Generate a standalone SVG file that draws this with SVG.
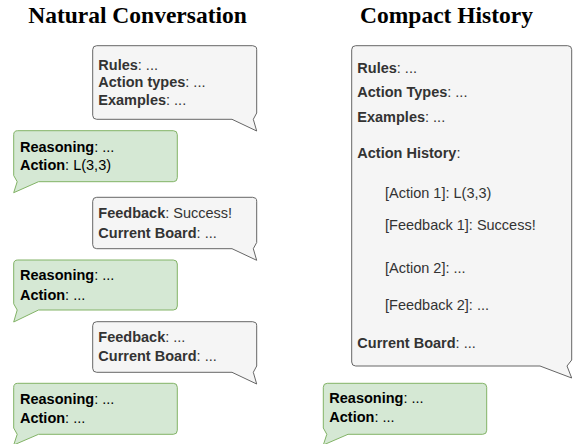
<svg xmlns="http://www.w3.org/2000/svg" width="573" height="444" viewBox="0 0 573 444">
<style>
.title{font-family:"Liberation Serif","Times New Roman",serif;font-weight:bold;font-size:23.5px;fill:#000;text-anchor:middle}
.gray{fill:#f5f5f5;stroke:#666666;stroke-width:1}
.green{fill:#d5e8d4;stroke:#82b366;stroke-width:1}
.t{font-family:"Liberation Sans",Arial,Helvetica,sans-serif;font-size:14.5px}
.tg{fill:#333333}
.tk{fill:#000000}
.b{font-weight:bold}
</style>
<rect width="573" height="444" fill="#ffffff"/>
<text class="title" x="137.5" y="22.7">Natural Conversation</text>
<text class="title" x="446.5" y="22.7">Compact History</text>

<g id="sys1">
<path class="gray" d="M96.7,45.7 H252.7 Q256.7,45.7 256.7,49.7 V113 L253.3,119.3 L256.7,131 L232,119.3 H96.7 Q92.7,119.3 92.7,115.3 V49.7 Q92.7,45.7 96.7,45.7 Z"/>
<text class="t tg" x="98.3" y="70"><tspan class="b">Rules</tspan>: ...</text>
<text class="t tg" x="98.3" y="87.3"><tspan class="b">Action types</tspan>: ...</text>
<text class="t tg" x="98.3" y="104.6"><tspan class="b">Examples</tspan>: ...</text>
</g>

<g id="agent1">
<path class="green" d="M17.7,130.7 H173.3 Q177.3,130.7 177.3,134.7 V177.7 Q177.3,181.7 173.3,181.7 H38.5 L13.7,192.7 L17.2,181.7 L13.7,175.5 V134.7 Q13.7,130.7 17.7,130.7 Z"/>
<text class="t tk" x="20" y="151.7"><tspan class="b">Reasoning</tspan>: ...</text>
<text class="t tk" x="20" y="170"><tspan class="b">Action</tspan>: L(3,3)</text>
</g>

<g id="sys2">
<path class="gray" d="M96.7,197.3 H252.7 Q256.7,197.3 256.7,201.3 V242.5 L253.3,248.7 L256.7,260.3 L232,248.7 H96.7 Q92.7,248.7 92.7,244.7 V201.3 Q92.7,197.3 96.7,197.3 Z"/>
<text class="t tg" x="98.3" y="218.3"><tspan class="b">Feedback</tspan>: Success!</text>
<text class="t tg" x="98.3" y="238.3"><tspan class="b">Current Board</tspan>: ...</text>
</g>

<g id="agent2">
<path class="green" d="M17.7,260 H173.3 Q177.3,260 177.3,264 V306 Q177.3,310 173.3,310 H38.5 L13.7,322 L17.2,310 L13.7,303.8 V264 Q13.7,260 17.7,260 Z"/>
<text class="t tk" x="20" y="280"><tspan class="b">Reasoning</tspan>: ...</text>
<text class="t tk" x="20" y="300"><tspan class="b">Action</tspan>: ...</text>
</g>

<g id="sys3">
<path class="gray" d="M96.7,321.7 H252.7 Q256.7,321.7 256.7,325.7 V366 L253.3,372.3 L256.7,384 L232,372.3 H96.7 Q92.7,372.3 92.7,368.3 V325.7 Q92.7,321.7 96.7,321.7 Z"/>
<text class="t tg" x="98.3" y="341.7"><tspan class="b">Feedback</tspan>: ...</text>
<text class="t tg" x="98.3" y="361"><tspan class="b">Current Board</tspan>: ...</text>
</g>

<g id="agent3">
<path class="green" d="M17.7,383.3 H173.3 Q177.3,383.3 177.3,387.3 V430.3 Q177.3,434.3 173.3,434.3 H38.5 L13.7,445 L17.2,434.3 L13.7,428 V387.3 Q13.7,383.3 17.7,383.3 Z"/>
<text class="t tk" x="20" y="404.3"><tspan class="b">Reasoning</tspan>: ...</text>
<text class="t tk" x="20" y="423.3"><tspan class="b">Action</tspan>: ...</text>
</g>

<g id="history">
<path class="gray" d="M355.7,45.7 H567.7 Q571.7,45.7 571.7,49.7 V360 L567,366 L571.7,378 L540,366 H355.7 Q351.7,366 351.7,362 V49.7 Q351.7,45.7 355.7,45.7 Z"/>
<text class="t tg" x="357.3" y="73.3"><tspan class="b">Rules</tspan>: ...</text>
<text class="t tg" x="357.3" y="96.7"><tspan class="b">Action Types</tspan>: ...</text>
<text class="t tg" x="357.3" y="121.7"><tspan class="b">Examples</tspan>: ...</text>
<text class="t tg" x="357.3" y="158.3"><tspan class="b">Action History</tspan>:</text>
<text class="t tg" x="385" y="198.3">[Action 1]: L(3,3)</text>
<text class="t tg" x="385" y="230">[Feedback 1]: Success!</text>
<text class="t tg" x="385" y="273.3">[Action 2]: ...</text>
<text class="t tg" x="385" y="310">[Feedback 2]: ...</text>
<text class="t tg" x="357.3" y="348.3"><tspan class="b">Current Board</tspan>: ...</text>
</g>

<g id="agent4">
<path class="green" d="M327.3,383.3 H482.7 Q486.7,383.3 486.7,387.3 V430.3 Q486.7,434.3 482.7,434.3 H348 L323.3,445 L326.8,434.3 L323.3,428 V387.3 Q323.3,383.3 327.3,383.3 Z"/>
<text class="t tk" x="329.3" y="403.3"><tspan class="b">Reasoning</tspan>: ...</text>
<text class="t tk" x="329.3" y="421.7"><tspan class="b">Action</tspan>: ...</text>
</g>
</svg>
